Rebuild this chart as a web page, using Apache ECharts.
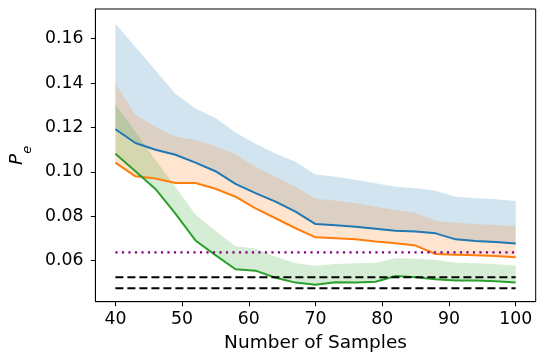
<!DOCTYPE html>
<html>
<head>
<meta charset="utf-8">
<script src="https://cdn.jsdelivr.net/npm/echarts@6.0.0/dist/echarts.min.js"></script>
<style>
  body { margin: 0; background: #fff; }
  #mychart { width: 546px; height: 363px; }
</style>
</head>
<body>
<div id="mychart"></div>
<script>
// sample sizes
const xs = [40, 43, 46, 49, 52, 55, 58, 61, 64, 67, 70, 73, 76, 79, 82, 85, 88, 91, 94, 97, 100]

// mean error and upper edge of the shaded band, per method
const blueMean = [0.1192, 0.1130, 0.1100, 0.1077, 0.1042, 0.1003, 0.0946, 0.0904, 0.0866, 0.0821, 0.0765, 0.0759, 0.0753, 0.0744, 0.0735, 0.0731, 0.0723, 0.0696, 0.0689, 0.0684, 0.0677]
const blueUpper = [0.1669, 0.1563, 0.1458, 0.1352, 0.1286, 0.1243, 0.1177, 0.1127, 0.1083, 0.1046, 0.0988, 0.0978, 0.0964, 0.0949, 0.0933, 0.0926, 0.0915, 0.0888, 0.0881, 0.0877, 0.0869]
const orangeMean = [0.1042, 0.0980, 0.0970, 0.0950, 0.0950, 0.0924, 0.0888, 0.0836, 0.0791, 0.0746, 0.0705, 0.0701, 0.0696, 0.0686, 0.0678, 0.0668, 0.0630, 0.0627, 0.0624, 0.0621, 0.0615]
const orangeUpper = [0.1399, 0.1258, 0.1202, 0.1159, 0.1144, 0.1116, 0.1078, 0.1023, 0.0978, 0.0933, 0.0879, 0.0870, 0.0859, 0.0843, 0.0828, 0.0816, 0.0779, 0.0771, 0.0765, 0.0761, 0.0756]
const greenMean = [0.1082, 0.1003, 0.0923, 0.0812, 0.0691, 0.0625, 0.0561, 0.0555, 0.0523, 0.0501, 0.0491, 0.0503, 0.0501, 0.0505, 0.0531, 0.0525, 0.0516, 0.0510, 0.0510, 0.0507, 0.0502]
const greenUpper = [0.1304, 0.1180, 0.1055, 0.0932, 0.0808, 0.0735, 0.0665, 0.0655, 0.0618, 0.0588, 0.0577, 0.0585, 0.0588, 0.0591, 0.0611, 0.0608, 0.0603, 0.0591, 0.0588, 0.0584, 0.0578]

// horizontal reference levels
const dottedLevel = 0.0637
const dashedLevels = [0.0525, 0.0476]

// ticks
const xTicks = [40, 50, 60, 70, 80, 90, 100]
const yTicks = [0.06, 0.08, 0.10, 0.12, 0.14, 0.16]

const font = 'DejaVu Sans'

function band(upper, lower, color) {
  return {
    type: 'custom',
    silent: true,
    z: 1,
    data: xs.map((x, i) => [x, lower[i], upper[i]]),
    encode: { x: 0, y: [1, 2] },
    renderItem: function(params, api) {
      if (params.dataIndex !== 0) return null
      const pts = []
      for (let i = 0; i < xs.length; i++) pts.push(api.coord([xs[i], upper[i]]))
      for (let i = xs.length - 1; i >= 0; i--) pts.push(api.coord([xs[i], lower[i]]))
      return { type: 'polygon', shape: { points: pts }, style: { fill: color } }
    }
  }
}

function meanLine(values, color) {
  return {
    type: 'line',
    symbol: 'none',
    z: 3,
    lineStyle: { color: color, width: 2 },
    data: xs.map((x, i) => [x, values[i]])
  }
}

function levelLine(level, color, dash, width) {
  return {
    type: 'line',
    symbol: 'none',
    z: 4,
    lineStyle: { color: color, width: width, type: dash },
    data: [[xs[0], level], [xs[xs.length - 1], level]]
  }
}

const option = {
  animation: false,
  grid: {
    left: 85, right: 10.3, top: 9, bottom: 61.3,
    show: true, borderColor: '#000', borderWidth: 1, backgroundColor: 'transparent'
  },
  xAxis: {
    type: 'value',
    min: 37,
    max: 103,
    name: 'Number of Samples',
    nameLocation: 'middle',
    nameGap: 31,
    nameTextStyle: { fontFamily: font, fontSize: 18.5, color: '#000', lineHeight: 20 },
    axisLine: { show: true, lineStyle: { color: '#000', width: 1 } },
    axisTick: { show: true, inside: false, length: 4.5, customValues: xTicks, lineStyle: { color: '#000' } },
    axisLabel: { customValues: xTicks, margin: 9, fontFamily: font, fontSize: 17.3, color: '#000' },
    splitLine: { show: false }
  },
  yAxis: {
    type: 'value',
    min: 0.0415,
    max: 0.1734,
    name: '{p|P}{e|e}',
    nameLocation: 'middle',
    nameRotate: 90,
    nameGap: 54,
    nameTextStyle: {
      rich: {
        p: { fontFamily: font, fontStyle: 'italic', fontSize: 18.5, color: '#000', lineHeight: 26, verticalAlign: 'top' },
        e: { fontFamily: font, fontStyle: 'italic', fontSize: 13, color: '#000', lineHeight: 13, verticalAlign: 'bottom' }
      }
    },
    axisLine: { show: true, lineStyle: { color: '#000', width: 1 } },
    axisTick: { show: true, inside: false, length: 4.5, customValues: yTicks, lineStyle: { color: '#000' } },
    axisLabel: {
      customValues: yTicks,
      margin: 12,
      fontFamily: font,
      fontSize: 17.3,
      color: '#000',
      formatter: function(v) { return v.toFixed(2) }
    },
    splitLine: { show: false }
  },
  series: [
    band(blueUpper, blueMean, 'rgba(31,119,180,0.2)'),
    band(orangeUpper, orangeMean, 'rgba(255,127,14,0.2)'),
    band(greenUpper, greenMean, 'rgba(44,160,44,0.2)'),
    meanLine(blueMean, '#1f77b4'),
    meanLine(orangeMean, '#ff7f0e'),
    meanLine(greenMean, '#2ca02c'),
    levelLine(dottedLevel, '#800080', [2.2, 4.3], 2.2),
    levelLine(dashedLevels[0], '#000', [8, 4], 2),
    levelLine(dashedLevels[1], '#000', [8, 4], 2)
  ]
}

const myChart = echarts.init(document.getElementById('mychart'))
myChart.setOption(option)
</script>
</body>
</html>
